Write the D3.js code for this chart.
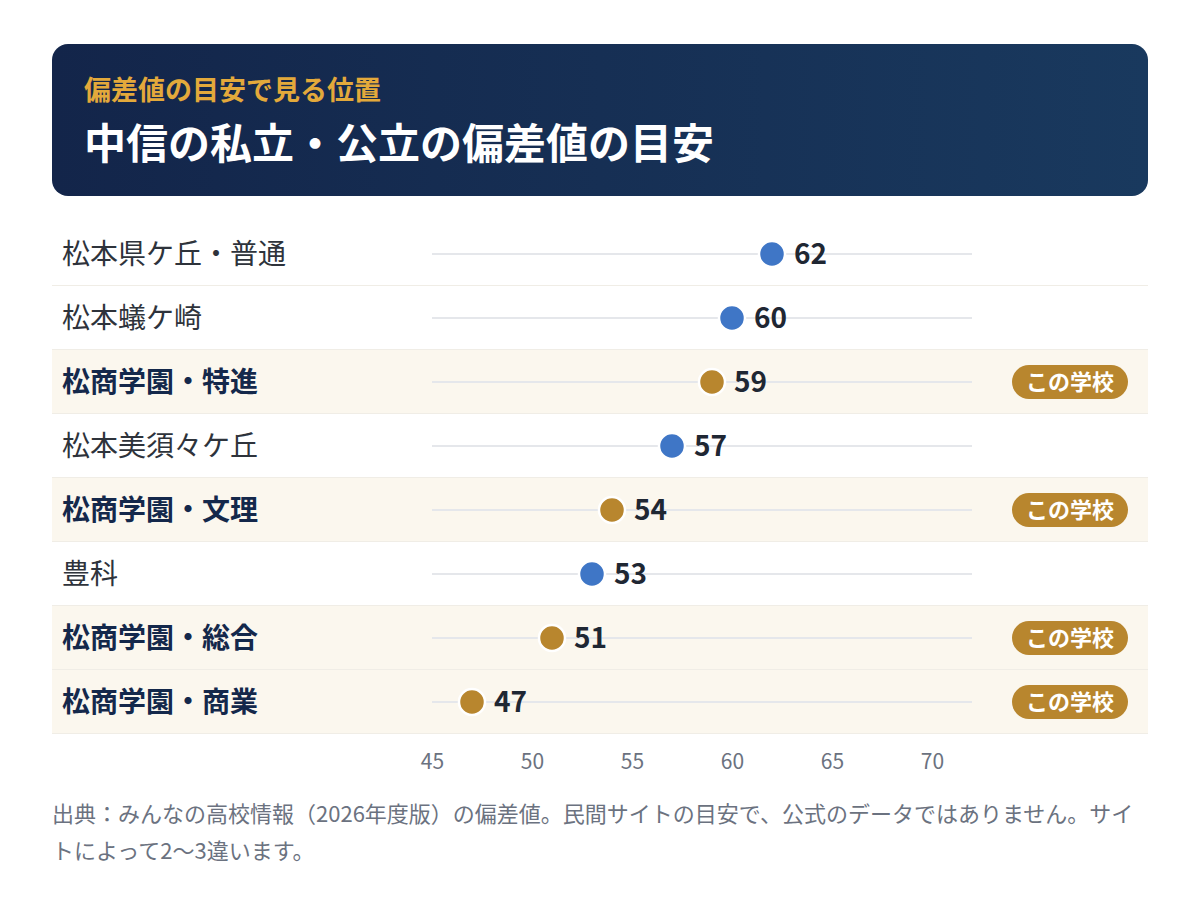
<!DOCTYPE html>
<html lang="ja">
<head>
<meta charset="utf-8">
<script src="https://cdn.jsdelivr.net/npm/d3@7"></script>
<style>
  body { margin: 0; background: #fff; font-family: "Noto Sans CJK JP", "Noto Sans", sans-serif; }
  #chart { position: relative; width: 1200px; height: 900px; }
  .note { position: absolute; left: 52px; top: 794px; width: 1090px; font-size: 22px; line-height: 37px; color: #6b7280; }
</style>
</head>
<body>
<div id="chart"></div>
<script>
// data
const schools = ['松本県ケ丘・普通', '松本蟻ケ崎', '松商学園・特進', '松本美須々ケ丘', '松商学園・文理', '豊科', '松商学園・総合', '松商学園・商業'];
const scores = [62, 60, 59, 57, 54, 53, 51, 47];
const isThisSchool = [false, false, true, false, true, false, true, true];
const ticks = [45, 50, 55, 60, 65, 70];

// constants
const width = 1200;
const height = 900;
const left = 52;
const right = 1148;
const rowTop = 222;
const rowH = 64;
const blue = '#3f76c6';
const gold = '#b8862e';

const rows = schools.map((name, i) => ({ name, value: scores[i], mine: isThisSchool[i] }));

const svg = d3.select('#chart')
  .append('svg')
  .attr('width', width)
  .attr('height', height);

// header gradient
const grad = svg.append('defs').append('linearGradient')
  .attr('id', 'hdr')
  .attr('x1', '0%').attr('y1', '0%').attr('x2', '100%').attr('y2', '0%');
grad.append('stop').attr('offset', '0%').attr('stop-color', '#13254a');
grad.append('stop').attr('offset', '100%').attr('stop-color', '#19395e');

svg.append('rect')
  .attr('x', left).attr('y', 44)
  .attr('width', right - left).attr('height', 152)
  .attr('rx', 16)
  .attr('fill', 'url(#hdr)');

svg.append('text')
  .attr('x', 84).attr('y', 100)
  .attr('fill', '#e3a93b')
  .attr('font-size', 27).attr('font-weight', 700)
  .text('偏差値の目安で見る位置');

svg.append('text')
  .attr('x', 84).attr('y', 159)
  .attr('fill', '#fff')
  .attr('font-size', 42).attr('font-weight', 700)
  .text('中信の私立・公立の偏差値の目安');

// scales
const x = d3.scaleLinear().domain([45, 72]).range([432, 972]);
const y = d3.scaleBand()
  .domain(d3.range(rows.length))
  .range([rowTop, rowTop + rowH * rows.length]);

const row = svg.selectAll('g.row')
  .data(rows)
  .join('g')
  .attr('class', 'row')
  .attr('transform', (d, i) => `translate(0, ${y(i)})`);

row.append('rect')
  .attr('x', left).attr('width', right - left)
  .attr('height', y.bandwidth())
  .attr('fill', (d) => (d.mine ? '#fbf7ee' : '#fff'));

row.append('line')
  .attr('x1', left).attr('x2', right)
  .attr('y1', y.bandwidth() - 0.5).attr('y2', y.bandwidth() - 0.5)
  .attr('stroke', '#f0ede6');

const mid = y.bandwidth() / 2;

row.append('text')
  .attr('x', 62).attr('y', mid)
  .attr('dy', '0.36em')
  .attr('font-size', 28)
  .attr('font-weight', (d) => (d.mine ? 700 : 400))
  .attr('fill', (d) => (d.mine ? '#14284b' : '#2e333b'))
  .text((d) => d.name);

// track
row.append('line')
  .attr('x1', x(45)).attr('x2', x(72))
  .attr('y1', mid).attr('y2', mid)
  .attr('stroke', '#e5e7eb').attr('stroke-width', 2);

row.append('circle')
  .attr('cx', (d) => x(d.value)).attr('cy', mid)
  .attr('r', 13)
  .attr('fill', (d) => (d.mine ? gold : blue))
  .attr('stroke', '#fff').attr('stroke-width', 2.5);

row.append('text')
  .attr('x', (d) => x(d.value) + 22).attr('y', mid)
  .attr('dy', '0.36em')
  .attr('font-size', 28).attr('font-weight', 700)
  .attr('fill', '#1f2733')
  .text((d) => d.value);

// badge
const badge = row.filter((d) => d.mine).append('g')
  .attr('transform', `translate(1012, ${mid - 17})`);
badge.append('rect')
  .attr('width', 116).attr('height', 34).attr('rx', 17)
  .attr('fill', gold);
badge.append('text')
  .attr('x', 58).attr('y', 17)
  .attr('dy', '0.36em')
  .attr('text-anchor', 'middle')
  .attr('font-size', 22).attr('font-weight', 700)
  .attr('fill', '#fff')
  .text('この学校');

// axis
const axis = svg.append('g')
  .attr('transform', `translate(0, ${rowTop + rowH * rows.length})`)
  .call(d3.axisBottom(x).tickValues(ticks).tickSize(0).tickPadding(20));
axis.select('.domain').remove();
axis.selectAll('text')
  .attr('font-family', '"Noto Sans CJK JP", sans-serif')
  .attr('font-size', 21)
  .attr('fill', '#6b7280');

d3.select('#chart').append('div')
  .attr('class', 'note')
  .text('出典：みんなの高校情報（2026年度版）の偏差値。民間サイトの目安で、公式のデータではありません。サイトによって2〜3違います。');
</script>
</body>
</html>
